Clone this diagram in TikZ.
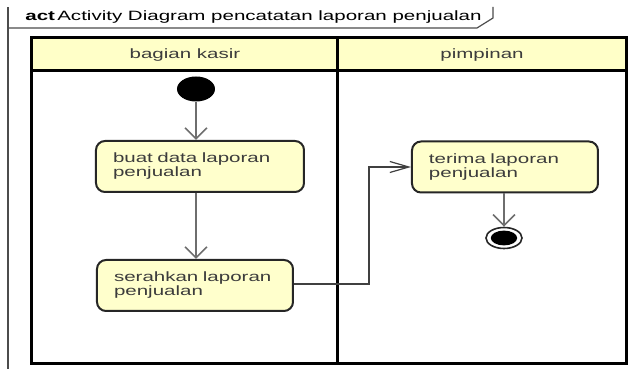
\documentclass[tikz,border=0pt]{standalone}
\usepackage{fontspec}
\setmainfont{Liberation Sans}
\newfontfamily\umlfont[FakeStretch=1.52]{Liberation Sans}
\usetikzlibrary{arrows.meta,shapes.geometric}
\definecolor{lanefill}{RGB}{255,255,200}
\definecolor{actfill}{RGB}{255,255,204}
\definecolor{flowgray}{RGB}{110,110,110}
\definecolor{inkgray}{RGB}{60,60,60}

\begin{document}
\begin{tikzpicture}[x=0.5pt,y=-0.5pt,
  font=\umlfont\fontsize{6.75pt}{7pt}\selectfont,
  every node/.style={text=inkgray},
  frameline/.style={draw=black!70, line width=0.6pt},
  lane/.style={draw=black, line width=1.5pt},
  action/.style={draw=black!85, line width=1pt, fill=actfill,
    rounded corners=4.5pt, minimum height=25.5pt, inner xsep=8.5pt,
    inner ysep=0pt, align=left},
  flowv/.style={draw=flowgray, line width=0.9pt,
    -{Straight Barb[length=5.5pt,width=11pt,line width=0.8pt]}},
  flowh/.style={draw=black!75, line width=0.6pt,
    -{Straight Barb[length=9.5pt,width=5.5pt,line width=0.6pt]}}]

\useasboundingbox (0,0) rectangle (629,369);

% diagram frame with its name tab
\draw[frameline] (8,369) -- (8,7);
\draw[frameline] (8,28) -- (477,28) -- (493,18) -- (493,7);
\node[anchor=base west, inner sep=0pt, text=black] (title) at (25,21)
  {\textbf{act}\,Activity Diagram pencatatan laporan penjualan};

% swimlanes
\fill[lanefill] (32,38) rectangle (627,71);
\draw[lane] (32,38) rectangle (627,364);
\draw[lane] (32,71) -- (627,71);
\draw[lane] (338,38) -- (338,364);
\node (laneA) at (185,55) {bagian kasir};
\node (laneB) at (482,55) {pimpinan};

% activity nodes
\node[ellipse, fill=black, minimum width=19pt, minimum height=12.5pt,
  inner sep=0pt] (start) at (196,89) {};
\node[action, text width=87pt] (buat) at (200,166.5)
  {buat data laporan\\penjualan};
\node[action, text width=81pt] (serah) at (195,285.5)
  {serahkan laporan\\penjualan};
\node[action, text width=76pt] (terima) at (505,167)
  {terima laporan\\penjualan};
\node[ellipse, draw=black!85, line width=0.8pt, fill=white,
  minimum width=18pt, minimum height=10.5pt, inner sep=0pt] (final) at (504,238) {};
\fill[black] (final.center) ellipse [x radius=6.6pt, y radius=3.7pt];

% control flows
\draw[flowv] (start) -- (start |- buat.north);
\draw[flowv] (buat.south -| start) -- (serah.north -| start);
\coordinate (bendA) at (369,284);
\coordinate (bendB) at (369,167);
\draw[flowh] (serah.east |- bendA) -- (bendA) -- (bendB) -- (terima.west);
\draw[flowv] (terima.south -| final) -- (final.north);
\end{tikzpicture}
\end{document}
